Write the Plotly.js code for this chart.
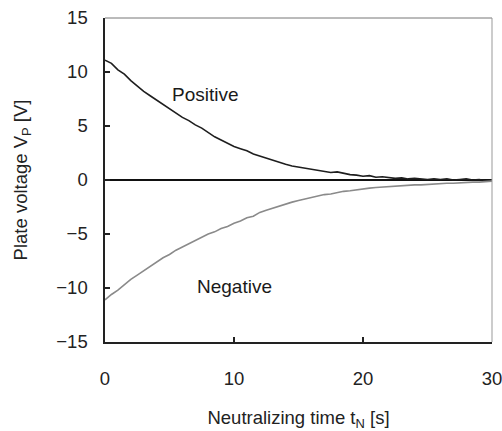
<!DOCTYPE html>
<html>
<head>
<meta charset="utf-8">
<script src="https://cdn.plot.ly/plotly-3.0.1.min.js"></script>
<style>html,body{margin:0;padding:0;background:#fff;}#chart{width:502px;height:431px;}</style>
</head>
<body>
<div id="chart"></div>
<script>
// Neutralizing time [s]
const timeS = [0,0.5,1,1.5,2,2.5,3,3.5,4,4.5,5,5.5,6,6.5,7,7.5,8,8.5,9,9.5,10,10.5,11,11.5,12,12.5,13,13.5,14,14.5,15,15.5,16,16.5,17,17.5,18,18.5,19,19.5,20,20.5,21,21.5,22,22.5,23,23.5,24,24.5,25,25.5,26,26.5,27,27.5,28,28.5,29,29.5,30];
// Plate voltage, positive charge [V]
const positiveV = [11.1,10.8,10.2,9.8,9.2,8.7,8.2,7.8,7.4,7.0,6.6,6.2,5.8,5.5,5.1,4.8,4.4,4.0,3.7,3.4,3.1,2.9,2.7,2.4,2.2,2.05,1.8,1.65,1.45,1.3,1.2,1.05,1.0,0.85,0.8,0.7,0.75,0.6,0.5,0.45,0.35,0.4,0.25,0.3,0.2,0.15,0.2,0.1,0.15,0.1,0.05,0.1,0.05,0.1,0.0,0.05,0.1,0.0,0.05,-0.05,0.0];
// Plate voltage, negative charge [V]
const negativeV = [-11.1,-10.6,-10.2,-9.7,-9.2,-8.8,-8.4,-8.0,-7.6,-7.2,-6.9,-6.5,-6.2,-5.9,-5.6,-5.3,-5.0,-4.8,-4.5,-4.3,-4.0,-3.8,-3.5,-3.35,-3.0,-2.8,-2.6,-2.4,-2.25,-2.05,-1.9,-1.75,-1.6,-1.5,-1.35,-1.3,-1.15,-1.05,-1.0,-0.9,-0.85,-0.75,-0.7,-0.65,-0.6,-0.55,-0.5,-0.5,-0.45,-0.45,-0.4,-0.35,-0.35,-0.3,-0.3,-0.25,-0.25,-0.2,-0.2,-0.15,-0.1];
const xTicks = [0,10,20,30];
const yTicks = [-15,-10,-5,0,5,10,15];
const seriesLabels = ["Positive","Negative"];
const labelPos = [[7.8,7.9],[10,-9.9]];

const font = "Arial, 'Liberation Sans', sans-serif";
const traces = [
  {x: timeS, y: positiveV, mode: 'lines', line: {color: '#1e1e1e', width: 1.6}, name: seriesLabels[0], hoverinfo: 'skip'},
  {x: timeS, y: negativeV, mode: 'lines', line: {color: '#8a8a8a', width: 1.6}, name: seriesLabels[1], hoverinfo: 'skip'}
];
const layout = {
  width: 502, height: 431,
  margin: {l: 105, r: 10, t: 18, b: 89},
  paper_bgcolor: '#fff', plot_bgcolor: '#fff',
  showlegend: false,
  font: {family: font, size: 18.5, color: '#222'},
  xaxis: {
    range: [0, 30], tickvals: xTicks, ticktext: xTicks.map(String),
    ticks: 'inside', ticklen: 5, tickwidth: 1.2, tickcolor: '#222',
    showline: true, linecolor: '#222', linewidth: 1.6,
    showgrid: false, zeroline: false, ticklabelstandoff: 19,
    ticklabeloverflow: 'allow',
    tickfont: {size: 18.5},
    title: {text: 'Neutralizing time t<sub>N</sub> [s]', font: {size: 18.5, color: '#222'}, standoff: 24}
  },
  yaxis: {
    range: [-15, 15], tickvals: yTicks, ticktext: yTicks.map(v => v < 0 ? '\u2212' + Math.abs(v) : String(v)),
    ticks: 'inside', ticklen: 5, tickwidth: 1.2, tickcolor: '#222',
    showline: true, linecolor: '#222', linewidth: 1.6,
    showgrid: false, zeroline: true, zerolinecolor: '#111', zerolinewidth: 1.8,
    ticklabelstandoff: 12,
    tickfont: {size: 18.5},
    title: {text: 'Plate voltage V<sub>P</sub> [V]', font: {size: 18.5, color: '#222'}, standoff: 24}
  },
  shapes: [
    {type: 'line', xref: 'paper', yref: 'paper', x0: 0, x1: 1, y0: 1, y1: 1, line: {color: '#777', width: 1}},
    {type: 'line', xref: 'paper', yref: 'paper', x0: 1, x1: 1, y0: 0, y1: 1, line: {color: '#999', width: 1}}
  ],
  annotations: seriesLabels.map((t, i) => ({
    x: labelPos[i][0], y: labelPos[i][1], xref: 'x', yref: 'y', text: t, showarrow: false,
    font: {family: font, size: 19, color: '#1a1a1a'}
  }))
};
Plotly.newPlot('chart', traces, layout, {displayModeBar: false, staticPlot: true});
</script>
</body>
</html>
